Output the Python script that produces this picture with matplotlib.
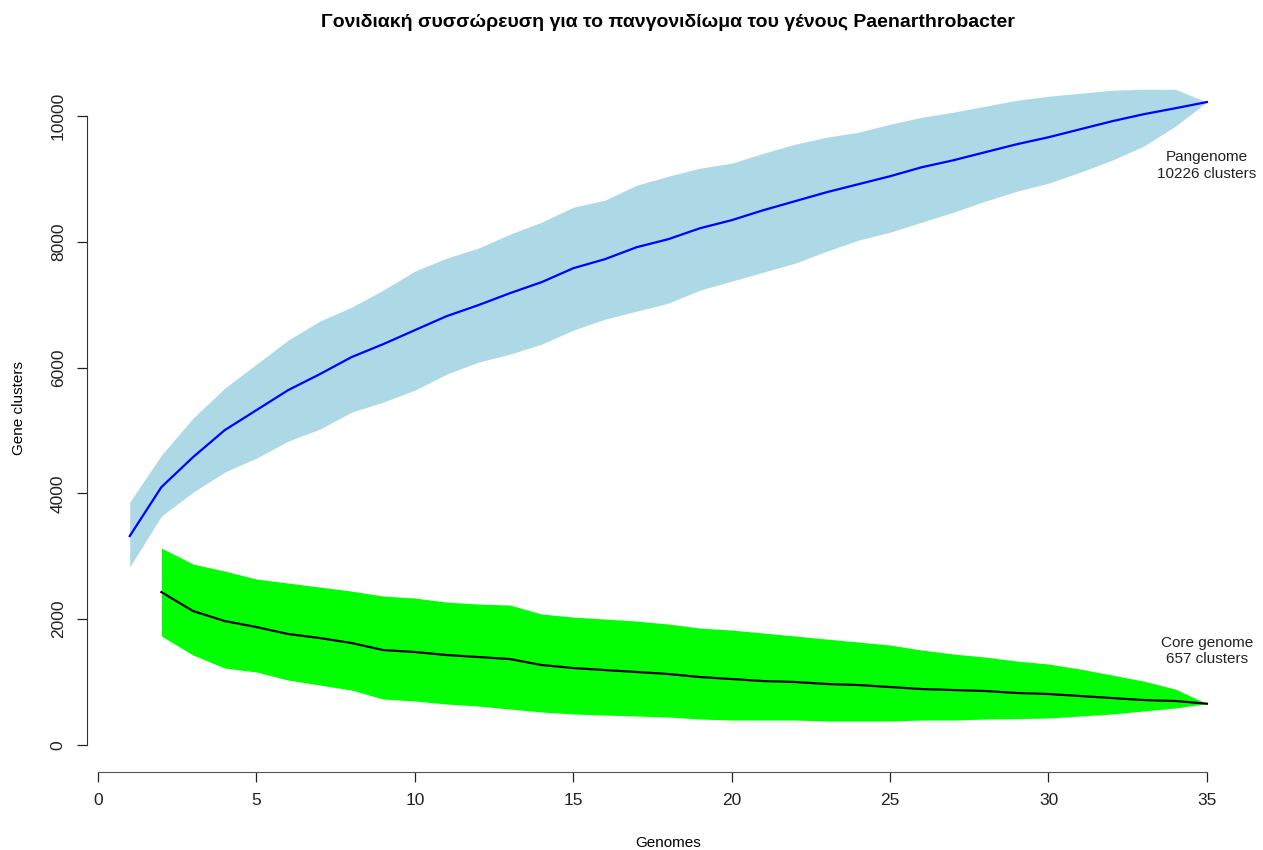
import matplotlib.pyplot as plt
import numpy as np

plt.rcParams['font.family'] = ['Liberation Sans', 'DejaVu Sans']

# number of genomes sampled
genomes = list(range(1, 36))

# pangenome size: mean and spread over permutations
pan_mean = [3323, 4102, 4579, 5008, 5326, 5644, 5898, 6169, 6375, 6598,
            6820, 6995, 7186, 7361, 7583, 7727, 7917, 8045, 8219, 8347,
            8506, 8649, 8792, 8919, 9046, 9189, 9300, 9428, 9555, 9666,
            9793, 9920, 10032, 10127, 10226]
pan_upper = [3863, 4610, 5199, 5676, 6057, 6439, 6741, 6963, 7234, 7536,
             7743, 7901, 8124, 8315, 8553, 8665, 8903, 9046, 9173, 9253,
             9412, 9555, 9666, 9746, 9873, 9984, 10064, 10159, 10254, 10318,
             10366, 10413, 10429, 10429, 10226]
pan_lower = [2830, 3641, 4022, 4340, 4563, 4833, 5024, 5294, 5453, 5644,
             5898, 6089, 6216, 6375, 6598, 6773, 6900, 7027, 7234, 7377,
             7520, 7663, 7854, 8029, 8156, 8315, 8474, 8649, 8808, 8935,
             9110, 9300, 9523, 9841, 10226]

# core genome size (defined from 2 genomes on)
core_genomes = list(range(2, 36))
core_mean = [2432, 2130, 1971, 1876, 1765, 1701, 1622, 1510, 1479, 1431,
             1399, 1367, 1272, 1224, 1192, 1161, 1129, 1081, 1049, 1017,
             1002, 970, 954, 922, 890, 874, 859, 827, 811, 779,
             747, 715, 700, 657]
core_upper = [3132, 2878, 2766, 2639, 2576, 2512, 2448, 2369, 2337, 2273,
              2242, 2226, 2083, 2035, 2003, 1971, 1924, 1860, 1828, 1781,
              1733, 1685, 1638, 1590, 1510, 1447, 1399, 1335, 1288, 1208,
              1113, 1017, 890, 657]
core_lower = [1733, 1431, 1224, 1161, 1033, 954, 874, 731, 700, 652,
              620, 572, 525, 493, 477, 461, 445, 413, 397, 397,
              397, 382, 382, 382, 397, 397, 413, 420, 429, 461,
              493, 541, 588, 657]

pan_total = pan_mean[-1]
core_total = core_mean[-1]

fig = plt.figure(figsize=(12.63, 8.5), dpi=100)
ax = fig.add_axes([0.0686, 0.0918, 0.9211, 0.8565])

ax.fill_between(genomes, pan_lower, pan_upper, color='#ADD8E6', linewidth=0)
ax.plot(genomes, pan_mean, color='#0000FF', linewidth=1.6)
ax.fill_between(core_genomes, core_lower, core_upper, color='#00FF00', linewidth=0)
ax.plot(core_genomes, core_mean, color='black', linewidth=1.6)

ax.text(35, 9220, f'Pangenome\n{pan_total} clusters', ha='center', va='center',
        fontsize=11, color='#222222', linespacing=1.25)
ax.text(35, 1495, f'Core genome\n{core_total} clusters', ha='center', va='center',
        fontsize=11, color='#222222', linespacing=1.25)

ax.set_xlim(-0.36, 36.36)
ax.set_ylim(-429, 11150)
ax.set_xticks(range(0, 36, 5))
ax.set_yticks(range(0, 10001, 2000))
ax.set_yticklabels([str(v) for v in range(0, 10001, 2000)], rotation=90, va='center')

for side in ['top', 'right']:
    ax.spines[side].set_visible(False)
ax.spines['left'].set_bounds(0, 10000)
ax.spines['bottom'].set_bounds(0, 35)
ax.spines['left'].set_color('#333333')
ax.spines['bottom'].set_color('#555555')
ax.tick_params(axis='both', direction='out', length=7, width=0.9, labelsize=12.5,
               colors='#222222', pad=8)
ax.tick_params(axis='y', pad=8)

ax.set_xlabel('Genomes', fontsize=11, labelpad=20)
ax.set_ylabel('Gene clusters', fontsize=11, labelpad=18)
fig.text(0.529, 0.974, 'Γονιδιακή συσσώρευση για το πανγονιδίωμα του γένους Paenarthrobacter',
         ha='center', va='center', fontsize=14, fontweight='bold')

fig.savefig('out.png', dpi=100)
